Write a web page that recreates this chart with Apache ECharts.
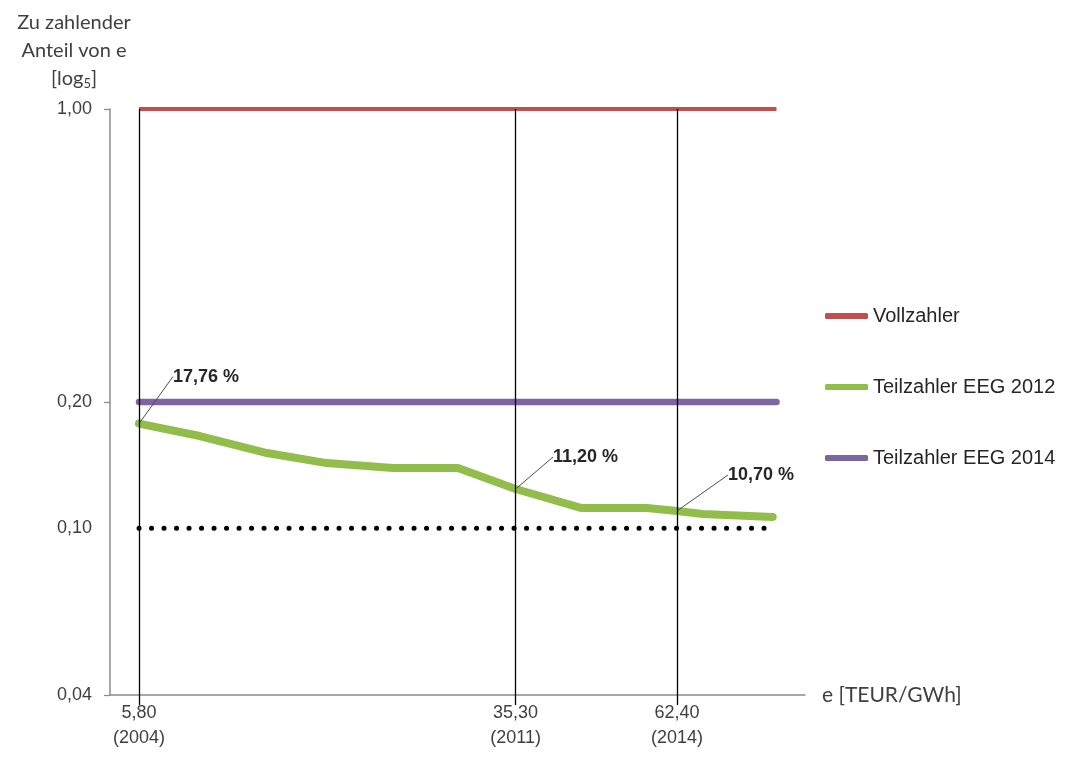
<!DOCTYPE html>
<html>
<head>
<meta charset="utf-8">
<script src="https://cdn.jsdelivr.net/npm/echarts@6/dist/echarts.min.js"></script>
<style>
html,body{margin:0;padding:0;background:#fff;}
#chart{width:1067px;height:760px;}
</style>
</head>
<body>
<div id="chart"></div>
<script>
// ---- data ----
const seriesNames = ['Vollzahler', 'Teilzahler EEG 2012', 'Teilzahler EEG 2014'];
const xTickYears = [2004, 2011, 2014];
const xTickE = ['5,80', '35,30', '62,40'];
const lineStartYear = 2004;
const lineEndYear = 2015.85;
const fullPayerShare = 1.0;      // Vollzahler
const partial2014Share = 0.20;   // Teilzahler EEG 2014
const referenceShare = 0.10;     // dotted reference line
const referenceLabel = '0,10';
const greenYears = [2004, 2005.13, 2006.38, 2007.49, 2008.72, 2009.93, 2011, 2012.23, 2013.44, 2014, 2014.48, 2015.78];
const greenShare = [0.1776, 0.1659, 0.1511, 0.1430, 0.1392, 0.1392, 0.1240, 0.1117, 0.1117, 0.1099, 0.1081, 0.1064];
const greenLabels = ['17,76 %', '', '', '', '', '', '11,20 %', '', '', '10,70 %', '', ''];

// ---- styling ----
const RED = '#C0504D', GREEN = '#92BD4A', PURPLE = '#7F64A2';
const labelShift = { 0: [67, -32], 6: [70, -17], 9: [84, -21] };

const greenData = greenYears.map((x, i) => {
  const item = { value: [x, greenShare[i]] };
  if (greenLabels[i]) {
    item.symbol = 'circle';
    item.symbolSize = 2;
    item.label = { show: true, formatter: greenLabels[i] };
    item.labelLine = { show: true };
  } else {
    item.symbol = 'none';
  }
  return item;
});

const chart = echarts.init(document.getElementById('chart'), null, { renderer: 'canvas' });
chart.setOption({
  backgroundColor: '#ffffff',
  animation: false,
  title: {
    text: 'Zu zahlender\nAnteil von e\n[log{sub|5}]',
    left: 69, top: 4, textAlign: 'center',
    textStyle: {
      fontFamily: 'Lato', fontSize: 20, fontWeight: 'normal', color: '#404040', lineHeight: 28,
      rich: { sub: { fontFamily: 'Lato', fontSize: 13, color: '#404040', padding: [10, 0, 0, 0] } }
    }
  },
  legend: {
    data: seriesNames,
    orient: 'vertical',
    left: 820, top: 299,
    itemWidth: 43, itemHeight: 6, itemGap: 47,
    icon: 'roundRect',
    textStyle: { fontFamily: 'Liberation Sans', fontSize: 20, color: '#262626', lineHeight: 24 }
  },
  grid: { left: 110, right: 262, top: 109, bottom: 65, containLabel: false },
  xAxis: {
    type: 'value',
    min: 2003.461, max: 2016.38,
    name: 'e [TEUR/GWh]', nameLocation: 'end', nameGap: 17,
    nameTextStyle: { fontFamily: 'Lato', fontSize: 21, color: '#404040', verticalAlign: 'middle' },
    axisLine: { show: true, lineStyle: { color: '#8C8C8C', width: 1.5 } },
    axisTick: { show: true, customValues: xTickYears, length: 10, lineStyle: { color: '#000', width: 1.3 } },
    axisLabel: {
      show: true, customValues: xTickYears, margin: 6,
      fontFamily: "'Liberation Sans Narrow', 'Liberation Sans'", fontSize: 18, color: '#404040', lineHeight: 25,
      formatter: v => { const i = xTickYears.indexOf(Math.round(v)); return i >= 0 ? xTickE[i] + '\n(' + xTickYears[i] + ')' : ''; }
    },
    splitLine: { show: false }
  },
  yAxis: {
    type: 'log', logBase: 5, min: 0.04, max: 1,
    axisLine: { show: true, lineStyle: { color: '#8C8C8C', width: 1.5 } },
    axisTick: { show: true, inside: false, length: 6, lineStyle: { color: '#8C8C8C', width: 1.3 } },
    axisLabel: {
      margin: 18, fontFamily: 'Liberation Sans', fontSize: 18, color: '#404040',
      formatter: v => Number(v).toFixed(2).replace('.', ',')
    },
    splitLine: { show: false },
    minorTick: { show: false }
  },
  series: [
    {
      name: 'ref', type: 'line', z: 1, silent: true, clip: false,
      data: [[lineStartYear, referenceShare], [lineEndYear, referenceShare]],
      symbol: 'none',
      lineStyle: { color: '#000', width: 5, type: [0.1, 12.4], cap: 'round' },
      markLine: {
        silent: true, symbol: 'none', animation: false,
        data: [
          ...xTickYears.map(y => ({ xAxis: y, lineStyle: { color: '#000', width: 1.3, type: 'solid' }, label: { show: false } })),
          { yAxis: referenceShare, lineStyle: { color: 'rgba(0,0,0,0)', width: 0 },
            label: { show: true, position: 'start', distance: 18, formatter: referenceLabel,
              fontFamily: 'Liberation Sans', fontSize: 18, color: '#404040' } }
        ]
      }
    },
    {
      name: seriesNames[0], type: 'line', z: 2, clip: false,
      data: [[lineStartYear, fullPayerShare], [lineEndYear, fullPayerShare]],
      symbol: 'none', color: RED,
      lineStyle: { color: RED, width: 4 }
    },
    {
      name: seriesNames[2], type: 'line', z: 2, clip: false,
      data: [[lineStartYear, partial2014Share], [lineEndYear, partial2014Share]],
      symbol: 'none', color: PURPLE,
      lineStyle: { color: PURPLE, width: 6.5, cap: 'round' }
    },
    {
      name: seriesNames[1], type: 'line', z: 3, clip: false,
      data: greenData,
      showSymbol: true, color: GREEN,
      itemStyle: { color: GREEN },
      lineStyle: { color: GREEN, width: 8, cap: 'round', join: 'round' },
      label: { show: false, position: 'top', fontFamily: 'Liberation Sans', fontWeight: 'bold', fontSize: 18, color: '#262626' },
      labelLine: { show: false, lineStyle: { color: '#4D4D4D', width: 1 } },
      labelLayout: p => { const s = labelShift[p.dataIndex]; return s ? { dx: s[0], dy: s[1] } : {}; }
    }
  ]
});
</script>
</body>
</html>
